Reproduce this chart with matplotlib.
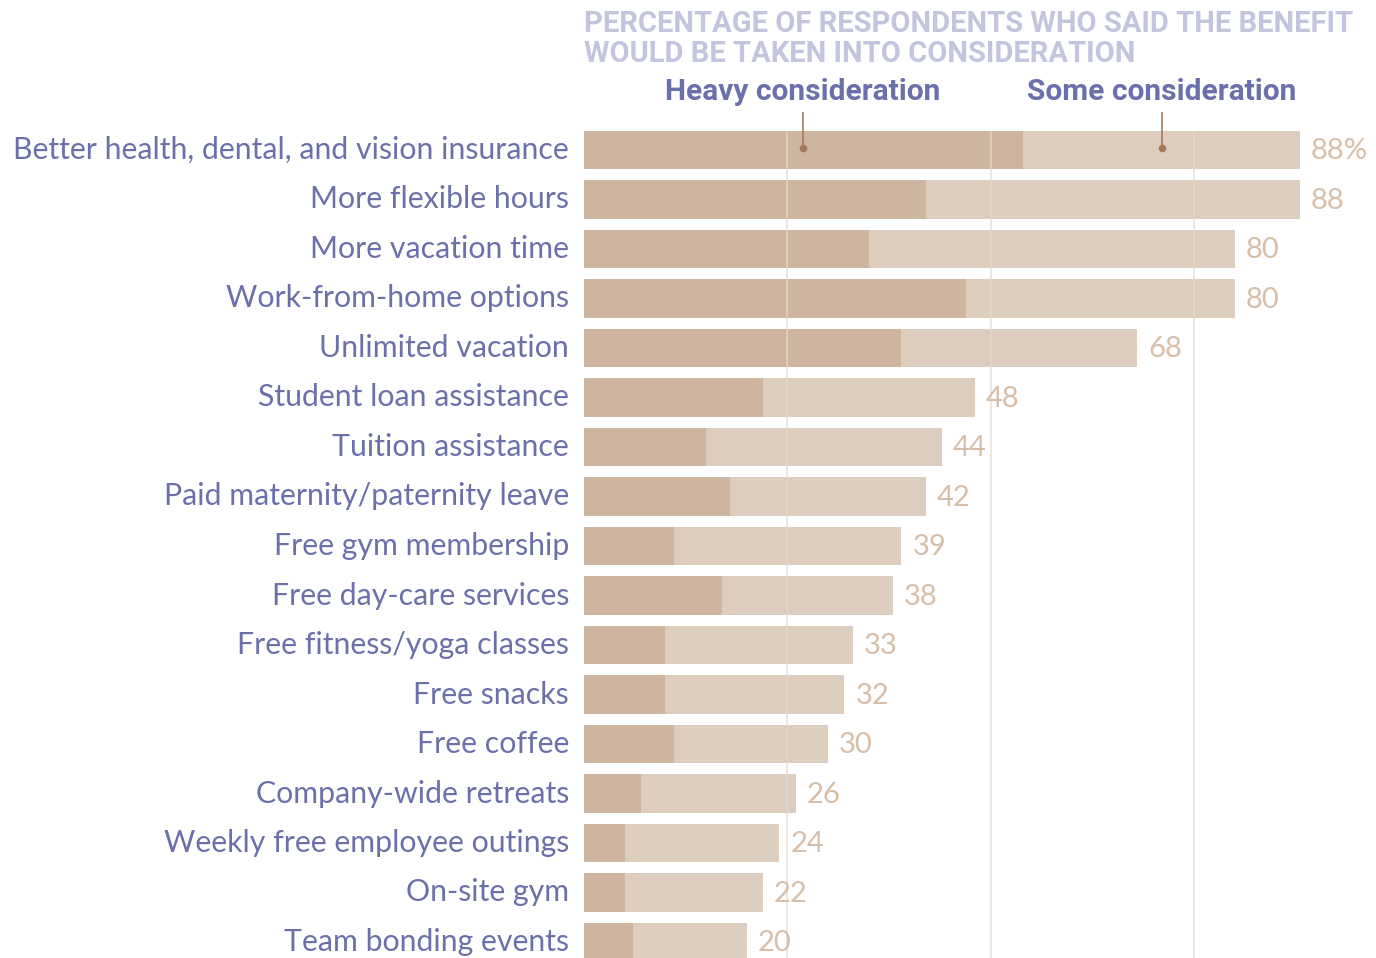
import numpy as np
import matplotlib.pyplot as plt

benefits = ["Better health, dental, and vision insurance", "More flexible hours",
            "More vacation time", "Work-from-home options", "Unlimited vacation",
            "Student loan assistance", "Tuition assistance", "Paid maternity/paternity leave",
            "Free gym membership", "Free day-care services", "Free fitness/yoga classes",
            "Free snacks", "Free coffee", "Company-wide retreats",
            "Weekly free employee outings", "On-site gym", "Team bonding events"]
total = [88, 88, 80, 80, 68, 48, 44, 42, 39, 38, 33, 32, 30, 26, 24, 22, 20]
heavy = [54, 42, 35, 47, 39, 22, 15, 18, 11, 17, 10, 10, 11, 7, 5, 5, 6]

heavy_col = "#cdb5a0"
some_col = "#ddcdbf"
label_col = "#6b70aa"
title_col = "#c3c4de"
value_col = "#d6bea8"

W, H = 1376, 958
fig = plt.figure(figsize=(W / 100, H / 100), dpi=100)
x0 = 584
ppu = (1300 - 584) / 88.0  # pixels per percent
ax = fig.add_axes([x0 / W, 0, (W - x0) / W, 1])
row0, rowstep = 150, 49.5
ax.set_xlim(0, (W - x0) / ppu)
ax.set_ylim((H - row0) / rowstep, -row0 / rowstep)
ax.axis("off")

y = np.arange(len(benefits))
ax.barh(y, total, height=0.77, color=some_col, zorder=1)
ax.barh(y, heavy, height=0.77, color=heavy_col, zorder=2)
ax.vlines([25, 50, 75], -0.39, 20, color="#e6d8cc", lw=1.2, zorder=3, alpha=0.8)

for i, (b, t) in enumerate(zip(benefits, total)):
    ax.text(-15 / ppu, i, b, ha="right", va="center", fontsize=21.8,
            family="Lato", color=label_col, clip_on=False)
    ax.text(t + 11 / ppu, i + 0.03, f"{t}%" if i == 0 else str(t), ha="left", va="center",
            fontsize=21, family="Lato", color=value_col)

fig.text(x0 / W, 1 - 10 / H, "PERCENTAGE OF RESPONDENTS WHO SAID THE BENEFIT\nWOULD BE TAKEN INTO CONSIDERATION",
         ha="left", va="top", fontsize=21, fontweight="bold", family="Roboto",
         color=title_col, linespacing=1.1)

for xp, lab in [(803, "Heavy consideration"), (1162, "Some consideration")]:
    xv = (xp - x0) / ppu
    ax.text(xv, (92 - row0) / rowstep, lab, ha="center", va="center", fontsize=21.5,
            fontweight="bold", family="Roboto", color=label_col)
    ax.plot([xv, xv], [(113 - row0) / rowstep, (148 - row0) / rowstep],
            color="#a57a5a", lw=1.2, zorder=5)
    ax.plot(xv, (148 - row0) / rowstep, "o", ms=4.5, color="#a57a5a", zorder=5)

fig.savefig("out.png", dpi=100)
